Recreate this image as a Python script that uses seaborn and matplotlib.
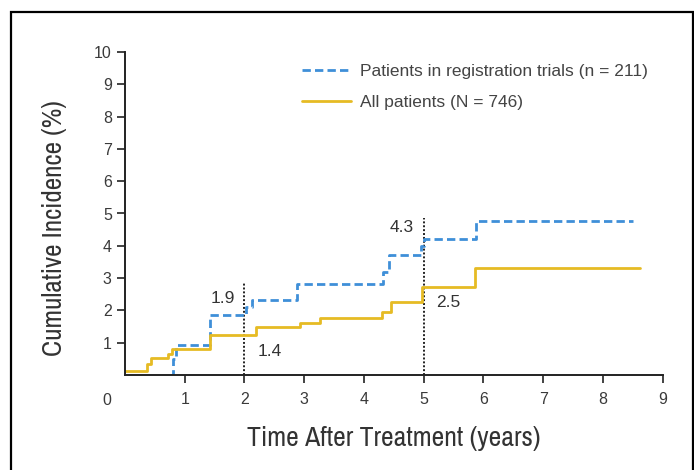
import matplotlib
matplotlib.use("Agg")
import matplotlib.pyplot as plt
from matplotlib import font_manager
from matplotlib.patches import Rectangle
from matplotlib.lines import Line2D
import seaborn as sns
import pandas as pd

# ---- data ----
series_names = ["Patients in registration trials (n = 211)", "All patients (N = 746)"]
reg_time = [0.75, 0.80, 0.85, 1.42, 2.03, 2.12, 2.88, 4.32, 4.42, 4.95, 5.0, 5.88, 8.5]
reg_value = [0.0, 0.5, 0.93, 1.85, 2.1, 2.33, 2.82, 3.2, 3.72, 4.0, 4.22, 4.77, 4.77]
all_time = [0.0, 0.37, 0.43, 0.72, 0.78, 1.42, 2.2, 2.93, 3.26, 4.3, 4.46, 4.97, 5.85, 8.62]
all_value = [0.12, 0.35, 0.52, 0.65, 0.8, 1.24, 1.5, 1.6, 1.76, 1.96, 2.27, 2.72, 3.32, 3.32]
marker_years = [2, 5]
marker_tops = [2.85, 4.85]
annot_text = ["1.9", "1.4", "4.3", "2.5"]
annot_x = [1.64, 2.43, 4.63, 5.41]
annot_y = [2.38, 0.74, 4.58, 2.23]
x_ticks = [1, 2, 3, 4, 5, 6, 7, 8, 9]
y_ticks = [1, 2, 3, 4, 5, 6, 7, 8, 9, 10]

colors = ["#3f8fd8", "#e6bb24"]

sns.set_style("white")
label_font = None
for f in font_manager.fontManager.ttflist:
    if "Narrow" in f.name or "Condensed" in f.name:
        label_font = f.name
        break
plt.rcParams["font.family"] = ["Liberation Sans", "DejaVu Sans"]
label_kw = dict(family=label_font) if label_font else dict(family="Liberation Sans")

df = pd.concat([
    pd.DataFrame({"time": reg_time, "value": reg_value, "group": series_names[0]}),
    pd.DataFrame({"time": all_time, "value": all_value, "group": series_names[1]}),
])

fig = plt.figure(figsize=(6.94, 4.70), dpi=100)
ax = fig.add_axes([125 / 694, 95 / 470, (662.75 - 125) / 694, 323 / 470])

sns.lineplot(data=df, x="time", y="value", hue="group", style="group",
             hue_order=series_names, style_order=series_names,
             palette=colors, dashes=[(3, 1.5), ""], drawstyle="steps-post",
             linewidth=2.0, estimator=None, sort=False, legend=False, ax=ax)

ax.vlines(marker_years, 0, marker_tops, colors="#222222", linestyles=(0, (1, 1)), linewidth=1.4, zorder=1)

for t, x, y in zip(annot_text, annot_x, annot_y):
    ax.text(x, y, t, ha="center", va="center", fontsize=12.5, color="#333333")

ax.set_xlim(0, 9)
ax.set_ylim(0, 10)
ax.set_xticks(x_ticks)
ax.set_yticks(y_ticks)
ax.tick_params(axis="both", which="major", direction="out", length=6, width=1.2,
               colors="#222222", labelcolor="#3a3a3a", labelsize=11.5, bottom=True, left=True)
ax.tick_params(axis="x", pad=6)
for s in ["top", "right"]:
    ax.spines[s].set_visible(False)
for s in ["left", "bottom"]:
    ax.spines[s].set_color("#222222")
    ax.spines[s].set_linewidth(1.4)

ax.set_xlabel("Time After Treatment (years)", fontsize=20, color="#333333",
              labelpad=14, **label_kw)
ax.set_ylabel("Cumulative Incidence (%)", fontsize=19.5, color="#333333", **label_kw)
ax.yaxis.set_label_coords(-0.108, 0.455)
ax.text(-0.3, -0.78, "0", ha="center", va="center", fontsize=11.5, color="#3a3a3a")

handles = [Line2D([], [], color=colors[0], lw=2.0, dashes=(3, 1.5)),
           Line2D([], [], color=colors[1], lw=2.0)]
fig.legend(handles, series_names, loc="upper left", bbox_to_anchor=(302 / 694, (470 - 64) / 470),
           frameon=False, fontsize=12.5, handlelength=2.8, handletextpad=0.55,
           labelspacing=0.9, borderpad=0, borderaxespad=0, labelcolor="#444444")

fig.patches.append(Rectangle((11 / 694, -0.05), (693 - 11) / 694, (470 - 12) / 470 + 0.05,
                             transform=fig.transFigure, fill=False, edgecolor="black",
                             linewidth=1.6, figure=fig))

fig.savefig("out.png", dpi=100)
